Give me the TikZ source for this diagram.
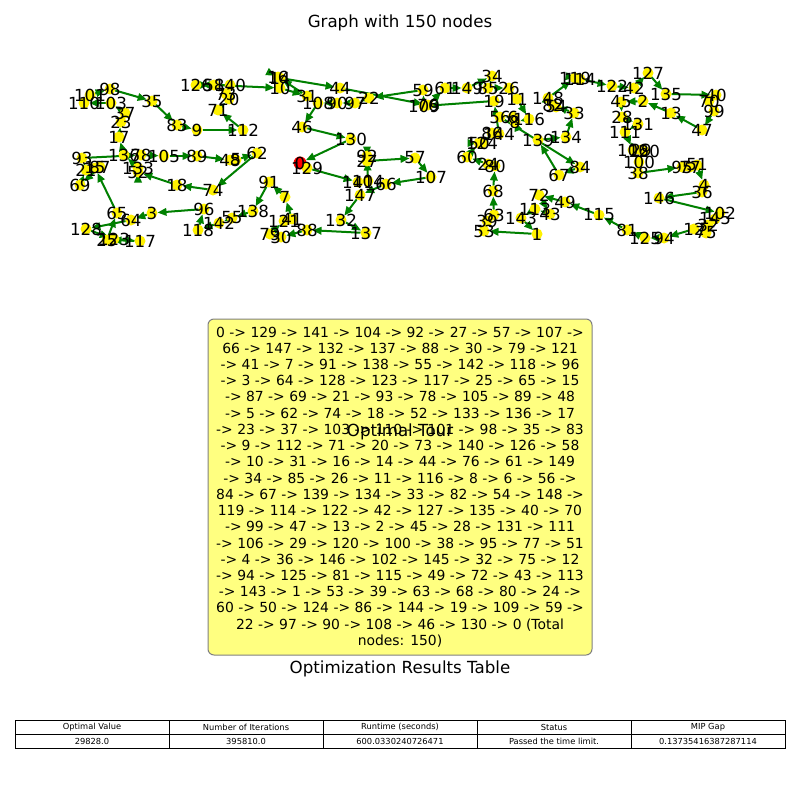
\documentclass[tikz,border=0pt]{standalone}
\usepackage{fontspec}
\setmainfont{DejaVu Sans}
\usetikzlibrary{arrows.meta}
\pgfdeclarelayer{bglayer}
\pgfdeclarelayer{edgelayer}
\pgfsetlayers{bglayer,edgelayer,main}
\definecolor{mplgreen}{HTML}{008000}
\definecolor{boxyellow}{HTML}{FFFF80}
\definecolor{boxedge}{HTML}{808080}
\def\nodelist{1/537/234, 2/643/101, 3/152/213, 4/704/185, 5/236/160, 6/513/117, 7/285/197, 8/515/122, 9/197/130, 10/280/88,
11/517/99, 12/694/229, 13/671/113, 14/280/78, 15/95/168, 16/278/77, 17/119/137, 18/177/185, 19/494/101, 20/229/99,
21/86/170, 22/369/98, 23/121/122, 24/488/164, 25/107/240, 26/509/88, 27/367/161, 28/622/117, 29/641/150, 30/281/237,
31/307/96, 32/708/225, 33/574/113, 34/492/76, 35/152/101, 36/702/192, 37/125/113, 38/638/173, 39/487/221, 40/716/95,
41/292/219, 42/634/88, 43/550/214, 44/340/88, 45/621/102, 46/302/127, 47/702/130, 48/230/160, 49/565/202, 50/479/143,
51/697/165, 52/138/172, 53/484/231, 54/556/107, 55/232/218, 56/500/117, 57/415/158, 58/214/85, 59/423/90, 60/467/157,
61/445/88, 62/257/153, 63/494/215, 64/131/220, 65/117/213, 66/386/184, 67/559/175, 68/493/191, 69/80/185, 70/709/101,
71/218/110, 72/539/195, 73/226/94, 74/213/190, 75/706/233, 76/428/105, 77/690/167, 78/141/155, 79/270/234, 80/495/166,
81/627/230, 82/553/105, 83/177/125, 84/580/167, 85/488/88, 86/492/133, 87/100/167, 88/307/230, 89/197/156, 90/337/103,
91/269/182, 92/367/156, 93/82/158, 94/664/238, 95/682/167, 96/204/209, 97/355/103, 98/110/89, 99/714/111, 100/639/162,
101/90/95, 102/720/213, 103/111/103, 104/368/181, 105/164/156, 106/633/150, 107/431/177, 108/318/103, 109/424/106, 110/84/103,
111/625/132, 112/243/130, 113/535/209, 114/580/79, 115/599/215, 116/529/119, 117/140/241, 118/198/230, 119/575/78, 120/644/151,
121/284/221, 122/612/86, 123/114/239, 124/482/143, 125/645/238, 126/196/85, 127/648/73, 128/86/229, 129/307/168, 130/351/139,
131/638/124, 132/341/220, 133/138/168, 134/566/137, 135/666/94, 136/124/155, 137/366/233, 138/253/211, 139/538/140, 140/230/85,
141/358/182, 142/219/223, 143/521/218, 144/499/134, 145/715/219, 146/659/198, 147/360/195, 148/548/98, 149/467/88}
\begin{document}
\begin{tikzpicture}[x=1pt,y=-1pt,
  vtx/.style={circle,fill=yellow,minimum size=11pt,inner sep=0pt,outer sep=0pt},
  startvtx/.style={vtx,fill=red,minimum size=13pt},
  lbl/.style={font=\fontsize{16.67}{20}\selectfont,inner sep=0pt,text=black},
  tedge/.style={draw=mplgreen,line width=2pt,-{Triangle[length=9pt,width=7.5pt]}},
  ttl/.style={font=\fontsize{16.67}{20}\selectfont,inner sep=0pt},
  tourbox/.style={draw=boxedge,fill=boxyellow,rounded corners=6pt,line width=1pt,
    minimum width=384pt,minimum height=336pt,inner sep=0pt,align=center,
    font=\fontsize{13.9}{16.23}\selectfont},
  cell/.style={draw=black,line width=0.8pt,minimum width=154pt,inner sep=0pt,
    font=\fontsize{8.3}{10}\selectfont}
]
\begin{pgfonlayer}{bglayer}
\fill[white] (0,0) rectangle (800,800);
\end{pgfonlayer}
\useasboundingbox (0,0) rectangle (800,800);
\node[ttl] (gtitle) at (400,23) {Graph with 150 nodes};
% vertices
\node[startvtx] (n0) at (300,163) {};
\foreach \i/\x/\y in \nodelist { \node[vtx] (n\i) at (\x,\y) {}; }
% tour edges
\begin{pgfonlayer}{edgelayer}
\foreach \a [remember=\a as \b (initially 0)] in {129,141,104,92,27,57,107,66,147,132,137,88,30,79,121,41,7,91,138,55,142,118,96,3,64,128,123,117,25,65,15,87,69,21,93,78,105,89,48,5,62,74,18,52,133,136,17,23,37,103,110,101,98,35,83,9,112,71,20,73,140,126,58,10,31,16,14,44,76,61,149,34,85,26,11,116,8,6,56,84,67,139,134,33,82,54,148,119,114,122,42,127,135,40,70,99,47,13,2,45,28,131,111,106,29,120,100,38,95,77,51,4,36,146,102,145,32,75,12,94,125,81,115,49,72,43,113,143,1,53,39,63,68,80,24,60,50,124,86,144,19,109,59,22,97,90,108,46,130,0}
  { \draw[tedge] (n\b) -- (n\a); }
\end{pgfonlayer}
% labels
\node[lbl] at (n0) {0};
\foreach \i/\x/\y in \nodelist { \node[lbl] at (n\i) {\i}; }
% tour text box
\node[tourbox] (tour) at (400,487) {0 -> 129 -> 141 -> 104 -> 92 -> 27 -> 57 -> 107 ->\\
66 -> 147 -> 132 -> 137 -> 88 -> 30 -> 79 -> 121\\
-> 41 -> 7 -> 91 -> 138 -> 55 -> 142 -> 118 -> 96\\
-> 3 -> 64 -> 128 -> 123 -> 117 -> 25 -> 65 -> 15\\
-> 87 -> 69 -> 21 -> 93 -> 78 -> 105 -> 89 -> 48\\
-> 5 -> 62 -> 74 -> 18 -> 52 -> 133 -> 136 -> 17\\
-> 23 -> 37 -> 103 -> 110 -> 101 -> 98 -> 35 -> 83\\
-> 9 -> 112 -> 71 -> 20 -> 73 -> 140 -> 126 -> 58\\
-> 10 -> 31 -> 16 -> 14 -> 44 -> 76 -> 61 -> 149\\
-> 34 -> 85 -> 26 -> 11 -> 116 -> 8 -> 6 -> 56 ->\\
84 -> 67 -> 139 -> 134 -> 33 -> 82 -> 54 -> 148 ->\\
119 -> 114 -> 122 -> 42 -> 127 -> 135 -> 40 -> 70\\
-> 99 -> 47 -> 13 -> 2 -> 45 -> 28 -> 131 -> 111\\
-> 106 -> 29 -> 120 -> 100 -> 38 -> 95 -> 77 -> 51\\
-> 4 -> 36 -> 146 -> 102 -> 145 -> 32 -> 75 -> 12\\
-> 94 -> 125 -> 81 -> 115 -> 49 -> 72 -> 43 -> 113\\
-> 143 -> 1 -> 53 -> 39 -> 63 -> 68 -> 80 -> 24 ->\\
60 -> 50 -> 124 -> 86 -> 144 -> 19 -> 109 -> 59 ->\\
22 -> 97 -> 90 -> 108 -> 46 -> 130 -> 0 (Total\\
nodes: 150)};
\node[ttl] (tourtitle) at (400,432) {Optimal Tour};
% results table
\node[ttl] (tabtitle) at (400,669) {Optimization Results Table};
\foreach \k/\h/\v in {1/Optimal Value/29828.0, 2/Number of Iterations/395810.0, 3/Runtime (seconds)/600.0330240726471, 4/Status/Passed the time limit., 5/MIP Gap/0.13735416387287114}
{
  \node[cell,minimum height=14pt] (h\k) at ({15+154*(\k-0.5)},727) {\h};
  \node[cell,minimum height=14.5pt] (v\k) at ({15+154*(\k-0.5)},741.25) {\v};
}
\end{tikzpicture}
\end{document}
